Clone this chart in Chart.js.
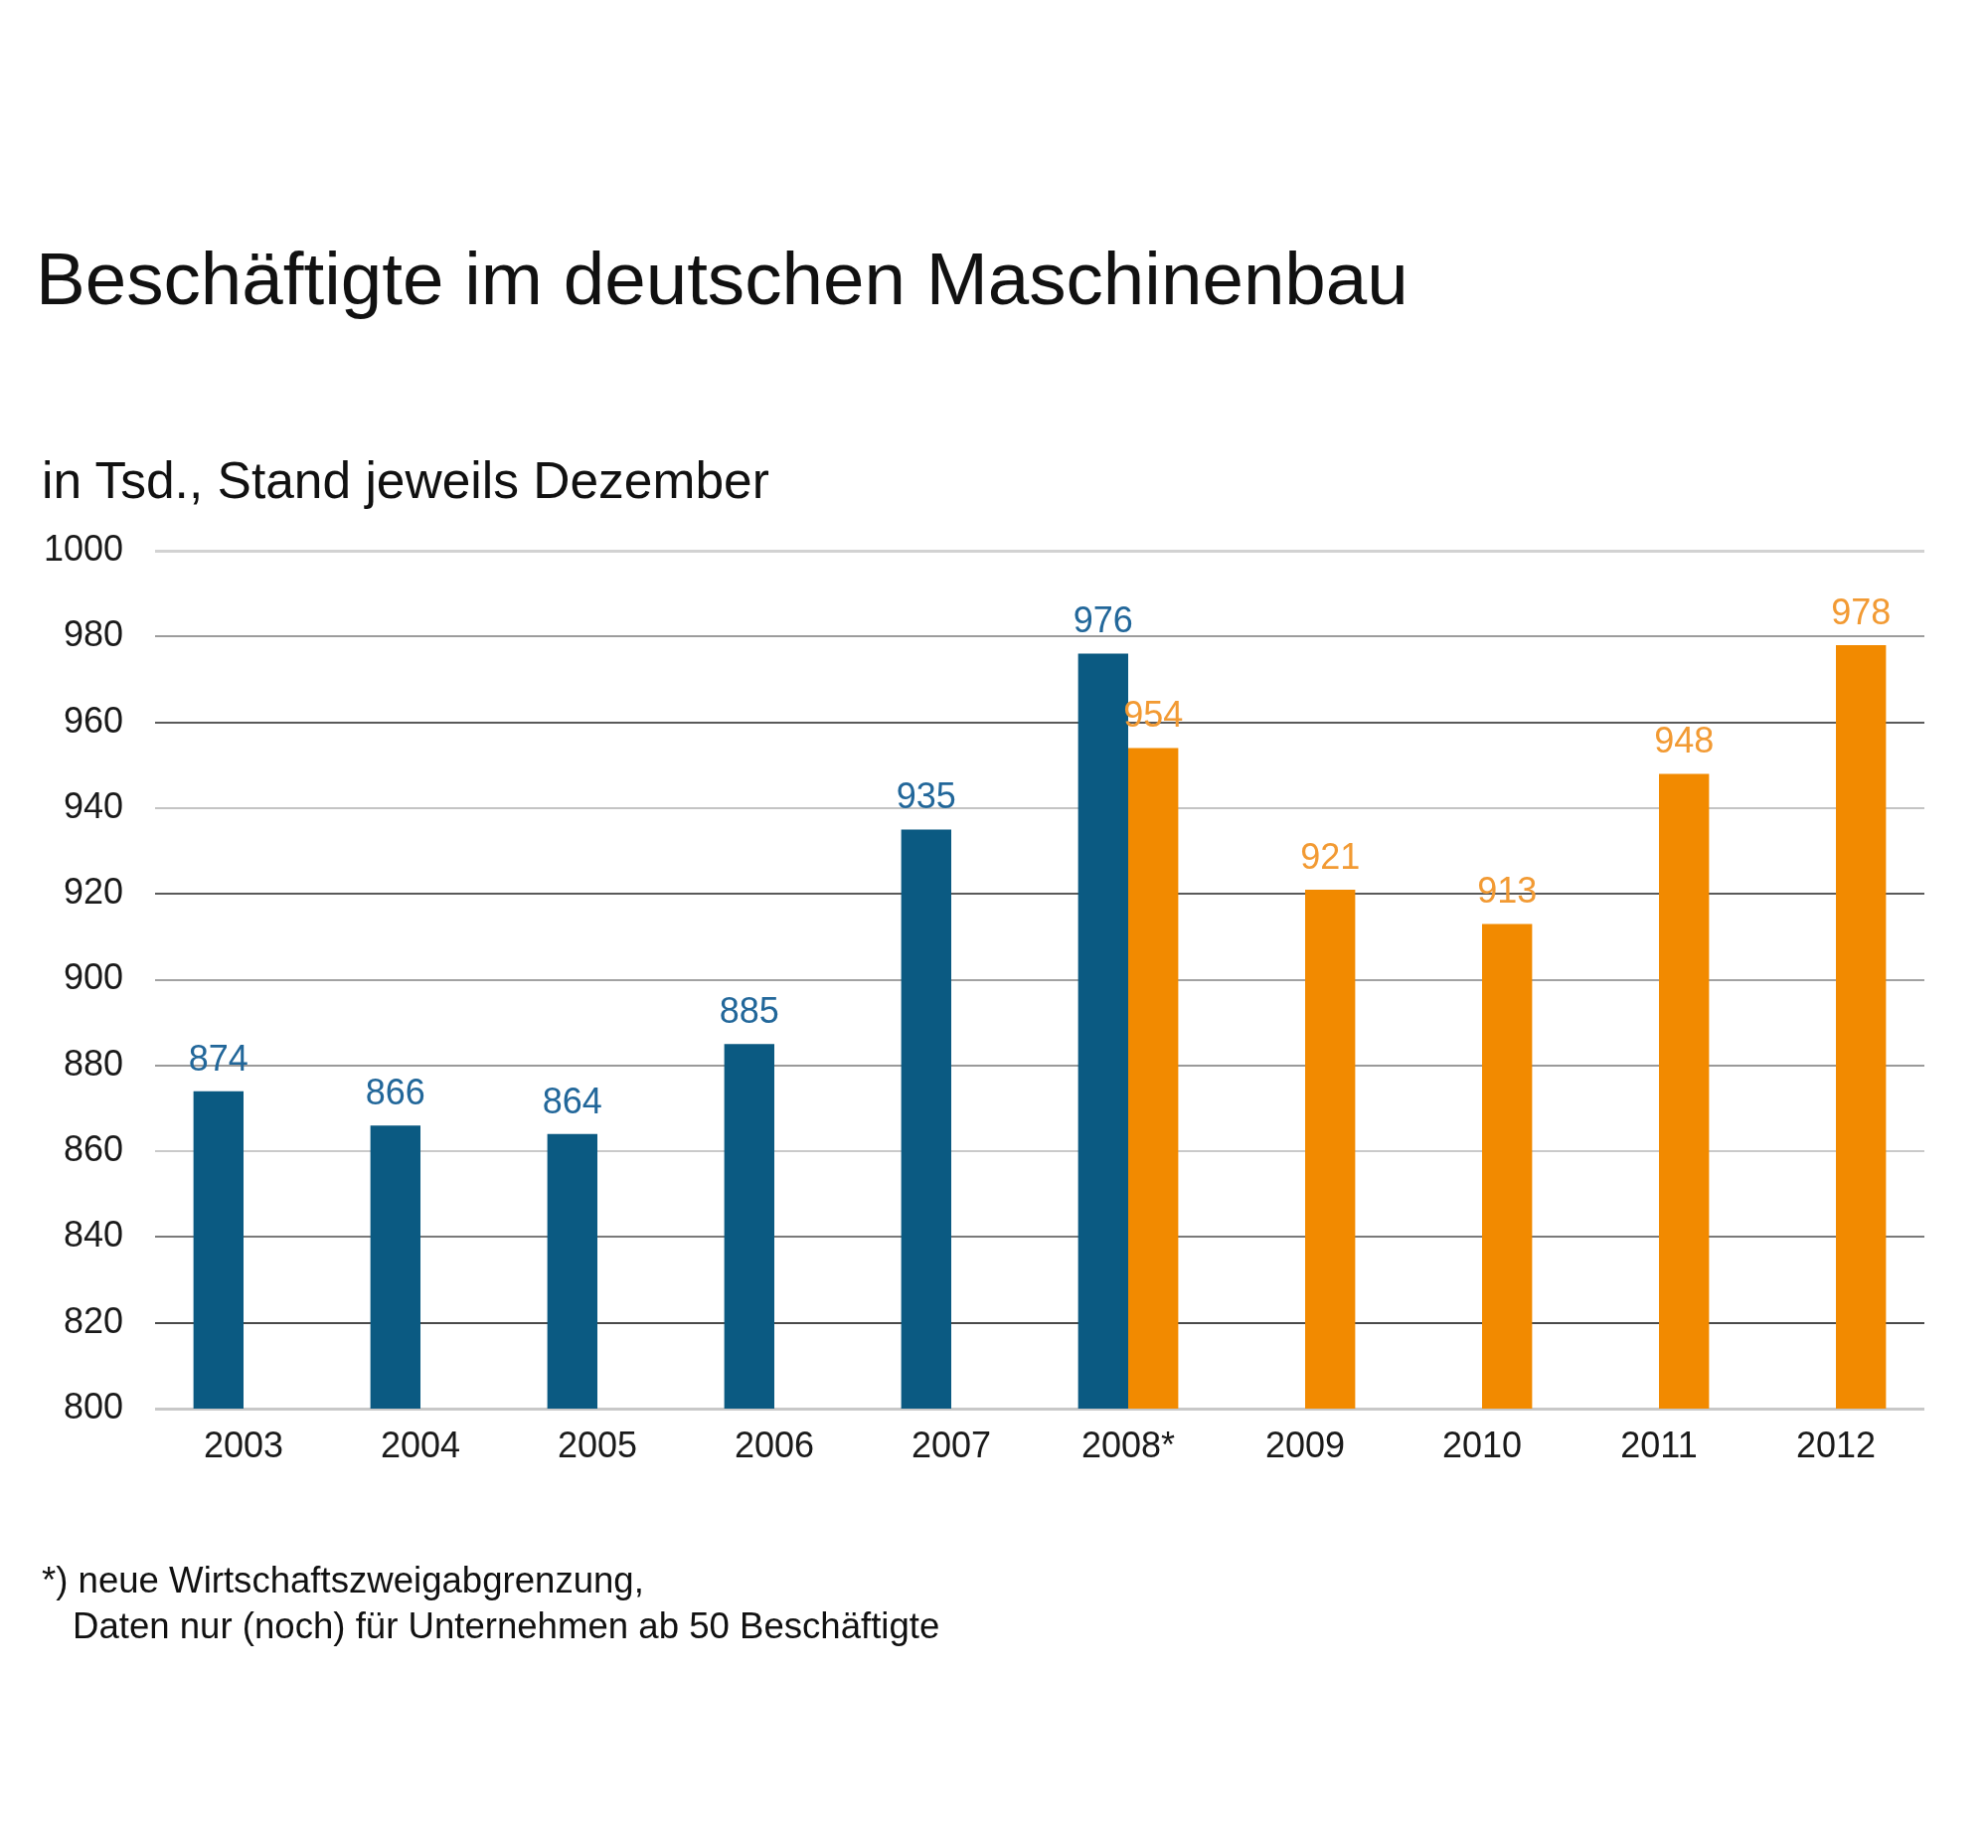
<!DOCTYPE html>
<html>
<head>
<meta charset="utf-8">
<script src="https://cdn.jsdelivr.net/npm/chart.js@4.4.0/dist/chart.umd.min.js"></script>
<style>
  body { margin: 0; background: #fff; }
  #wrap { position: relative; width: 2000px; height: 1859px; overflow: hidden; }
  #myChart { position: absolute; left: 0; top: 0; }
  .txt { position: absolute; font-family: "Liberation Sans", Arial, sans-serif; color: #111; line-height: 1; white-space: nowrap; }
  #title { left: 36px; top: 243px; font-size: 74.6px; }
  #sub { left: 42px; top: 458px; font-size: 51.5px; }
  #note1 { left: 42px; top: 1572px; font-size: 36.6px; }
  #note2 { left: 73px; top: 1618px; font-size: 36.6px; }
</style>
</head>
<body>
<div id="wrap">
  <canvas id="myChart" width="2000" height="1859"></canvas>
  <div class="txt" id="title">Beschäftigte im deutschen Maschinenbau</div>
  <div class="txt" id="sub">in Tsd., Stand jeweils Dezember</div>
  <div class="txt" id="note1">*) neue Wirtschaftszweigabgrenzung,</div>
  <div class="txt" id="note2">Daten nur (noch) für Unternehmen ab 50 Beschäftigte</div>
</div>
<script>
const labels = ['2003', '2004', '2005', '2006', '2007', '2008*', '2009', '2010', '2011', '2012'];
const oldValues = [874, 866, 864, 885, 935, 976, null, null, null, null];
const newValues = [null, null, null, null, null, 954, 921, 913, 948, 978];
const yTicks = [800, 820, 840, 860, 880, 900, 920, 940, 960, 980, 1000];

// grid lines in the picture are not all the same grey
const gridColors = {
    1000: '#d2d2d2', 980: '#9c9c9c', 960: '#5a5a5a', 940: '#c4c4c4', 920: '#5a5a5a',
    900: '#a2a2a2', 880: '#9a9a9a', 860: '#cacaca', 840: '#7a7a7a', 820: '#4a4a4a', 800: '#c8c8c8'
};

const valueLabels = {
    id: 'valueLabels',
    afterDatasetsDraw(chart) {
        const ctx = chart.ctx;
        ctx.save();
        ctx.font = '36px "Liberation Sans", Arial, sans-serif';
        ctx.textAlign = 'center';
        ctx.textBaseline = 'middle';
        chart.data.datasets.forEach((ds, i) => {
            const meta = chart.getDatasetMeta(i);
            ctx.fillStyle = ds.labelColor;
            meta.data.forEach((bar, j) => {
                if (ds.data[j] == null) return;
                ctx.fillText(String(ds.data[j]), bar.x, bar.y - 31);
            });
        });
        ctx.restore();
    }
};

const data = {
    labels: labels,
    datasets: [{
        label: 'alt',
        data: oldValues,
        backgroundColor: '#0b5a82',
        labelColor: '#22679a',
        categoryPercentage: 0.566,
        barPercentage: 1.0,
    },
    {
        label: 'neu',
        data: newValues,
        backgroundColor: '#f28a00',
        labelColor: '#f29a33',
        categoryPercentage: 0.566,
        barPercentage: 1.0,
    }]
};

const config = {
    type: 'bar',
    data: data,
    plugins: [valueLabels],
    options: {
        responsive: false,
        animation: false,
        layout: { padding: { top: 554, right: 64, bottom: 342, left: 0 } },
        plugins: {
            legend: { display: false },
            tooltip: { enabled: false },
        },
        scales: {
            x: {
                grid: { display: false },
                border: { display: false },
                ticks: {
                    color: '#1a1a1a',
                    padding: 9,
                    font: { family: '"Liberation Sans", Arial, sans-serif', size: 36 },
                },
                afterFit: s => { s.height = 100; },
            },
            y: {
                min: 800,
                max: 1000,
                border: { display: false },
                grid: {
                    drawTicks: false,
                    lineWidth: ctx => (ctx.tick.value === 1000 || ctx.tick.value === 800) ? 3 : 2,
                    color: ctx => gridColors[ctx.tick.value] || '#999',
                },
                afterBuildTicks: s => { s.ticks = yTicks.map(v => ({ value: v })); },
                ticks: {
                    color: '#1a1a1a',
                    padding: 32,
                    callback: v => String(v),
                    font: { family: '"Liberation Sans", Arial, sans-serif', size: 36 },
                },
                afterFit: s => { s.width = 156; },
            }
        }
    }
};

var myChart = new Chart(
    document.getElementById('myChart'),
    config
);
</script>
</body>
</html>
